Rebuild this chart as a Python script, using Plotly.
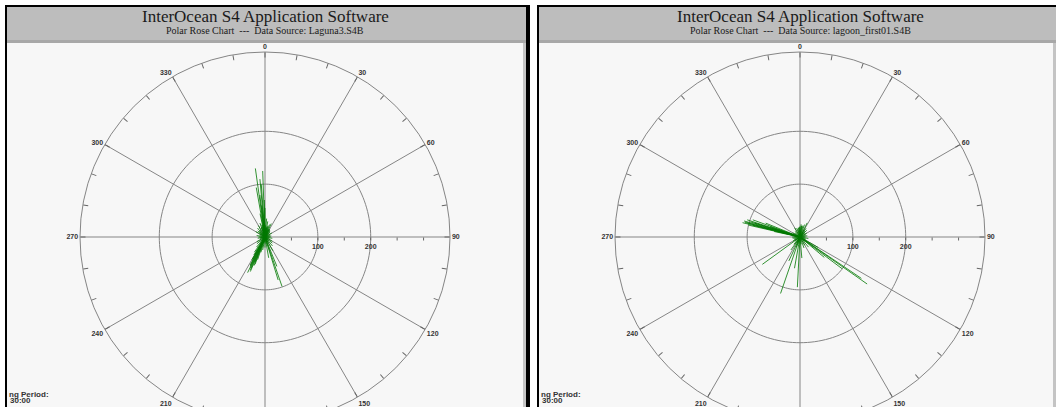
import plotly.graph_objects as go

# ---------------------------------------------------------------- data
# Current vectors for each record: direction (deg, compass) and speed (cm/s)
laguna_dir = [352, 358, 355, 350, 356, 353, 359, 354, 0, 348,
              10, 20, 15, 30, 40, 5, 25,
              161, 163, 158, 150, 140, 170,
              203, 205, 208, 200, 210, 198, 212, 206, 215, 195, 190,
              204, 207, 202, 209, 201,
              60, 80, 100, 120, 240, 260, 280, 300, 320, 330, 340, 220, 230,
              180, 130, 90, 270, 310, 345, 12, 35, 355, 8, 190, 210, 200,
              2, 18, 28, 45, 70, 110, 150, 170, 250, 290, 315, 338, 350, 357,
              6, 22, 50, 135, 185, 225, 265, 305, 325, 342]
laguna_spd = [131, 125, 110, 95, 100, 80, 70, 60, 55, 45,
              30, 25, 22, 18, 15, 35, 28,
              99, 85, 60, 30, 22, 40,
              71, 65, 60, 55, 50, 45, 40, 75, 35, 30, 25,
              68, 62, 52, 48, 58,
              15, 12, 14, 16, 18, 14, 16, 20, 22, 25, 28, 25, 20,
              20, 18, 10, 12, 18, 24, 20, 16, 26, 18, 12, 14, 16,
              22, 18, 16, 13, 10, 9, 12, 14, 10, 11, 15, 19, 23, 21,
              17, 14, 11, 10, 9, 12, 9, 12, 16, 20]

lagoon_dir = [284, 286, 288, 283, 290, 285, 287, 292, 289, 282,
              285, 287, 284,
              125, 124, 127, 130, 120,
              183, 199, 190, 205, 234, 175, 215,
              27, 20, 35, 10, 45, 0, 350,
              60, 80, 100, 150, 160, 240, 260, 300, 320, 340,
              70, 200, 220, 270, 250, 330, 140, 110, 15, 5, 355,
              30, 50, 90, 120, 170, 190, 230, 280, 310, 345, 358, 8, 40, 135, 210]
lagoon_spd = [112, 110, 105, 100, 95, 108, 90, 70, 60, 50,
              104, 98, 92,
              155, 140, 100, 60, 40,
              95, 113, 60, 50, 88, 40, 30,
              30, 25, 20, 22, 18, 20, 18,
              15, 14, 16, 18, 22, 15, 14, 16, 14, 18,
              12, 20, 18, 15, 12, 20, 25, 12, 22, 24, 18,
              16, 12, 10, 11, 14, 13, 12, 14, 12, 15, 19, 21, 14, 12, 13]

spoke_angles = list(range(0, 360, 30))
ring_levels = [100, 200]
r_max = 350
angle_ticks = list(range(0, 360, 10))
radial_ticks = [50, 100, 150, 200, 250, 300]
radial_labels = ["", "<b>100</b>", "", "<b>200</b>", "", ""]

panels = [
    dict(source="Laguna3.S4B", dirs=laguna_dir, spds=laguna_spd),
    dict(source="lagoon_first01.S4B", dirs=lagoon_dir, spds=lagoon_spd),
]

# ---------------------------------------------------------------- geometry (px)
W, H = 1056, 440


def px(x):
    return x / W


def py(y):
    return 1 - y / H


panel_boxes = [  # outer black frame left/right, plot centre x
    dict(x0=5, x1=530, cx=265),
    dict(x0=537, x1=1060, cx=800),
]
cy, R = 237, 185
grid_col = "#858585"

fig = go.Figure()
shapes, annotations = [], []

for i, (p, box) in enumerate(zip(panels, panel_boxes), start=1):
    pid = "polar" if i == 1 else f"polar{i}"
    sub = pid

    # spokes
    th, rr = [], []
    for a in spoke_angles:
        th += [a, a, None]
        rr += [0, r_max, None]
    fig.add_trace(go.Scatterpolar(theta=th, r=rr, mode="lines", subplot=sub,
                                  line=dict(color=grid_col, width=1),
                                  hoverinfo="skip", showlegend=False))
    # range rings
    for lvl in ring_levels:
        th = list(range(0, 361, 2))
        fig.add_trace(go.Scatterpolar(theta=th, r=[lvl] * len(th), mode="lines",
                                      subplot=sub,
                                      line=dict(color=grid_col, width=1),
                                      hoverinfo="skip", showlegend=False))
    # current vectors
    th, rr = [], []
    for d, s in zip(p["dirs"], p["spds"]):
        th += [d, d, None]
        rr += [0, s, None]
    fig.add_trace(go.Scatterpolar(theta=th, r=rr, mode="lines", subplot=sub,
                                  line=dict(color="rgba(0,120,0,0.8)", width=1),
                                  showlegend=False))

    dom_x = [px(box["cx"] - R), px(box["cx"] + R)]
    dom_y = [py(cy + R), py(cy - R)]
    fig.update_layout(**{pid: dict(
        domain=dict(x=dom_x, y=dom_y),
        bgcolor="rgba(0,0,0,0)",
        angularaxis=dict(rotation=90, direction="clockwise",
                         tickmode="array", tickvals=angle_ticks,
                         ticktext=[f"<b>{a}</b>" if a % 30 == 0 else "" for a in angle_ticks],
                         ticks="inside", ticklen=5, tickwidth=1, tickcolor="#666666",
                         showgrid=False, showline=True,
                         linecolor=grid_col, linewidth=1,
                         tickfont=dict(family="Liberation Sans", size=7, color="#333333")),
        radialaxis=dict(range=[0, r_max], angle=0, side="clockwise",
                        tickmode="array", tickvals=radial_ticks, ticktext=radial_labels,
                        ticks="outside", ticklen=3, tickcolor="#666666",
                        showgrid=False, showline=False, tickangle=0,
                        tickfont=dict(family="Liberation Sans", size=7, color="#333333")),
    )})

    # window chrome
    x0, x1 = box["x0"], box["x1"]
    shapes += [
        dict(type="rect", x0=px(x0), x1=px(x1), y0=py(H), y1=py(5),
             fillcolor="#000000", line_width=0, layer="below"),
        dict(type="rect", x0=px(x0 + 2), x1=px(x1 - 4), y0=py(42), y1=py(7),
             fillcolor="#bdbdbd", line_width=0, layer="below"),
        dict(type="rect", x0=px(x0 + 2), x1=px(x1 - 4), y0=py(43), y1=py(40),
             fillcolor="#a8a8a8", line_width=0, layer="below"),
        dict(type="rect", x0=px(x0 + 2), x1=px(x1 - 4), y0=py(H), y1=py(43),
             fillcolor="#f7f7f7", line_width=0, layer="below"),
        dict(type="rect", x0=px(x1 - 7), x1=px(x1 - 4), y0=py(H), y1=py(43),
             fillcolor="#c4c4c4", line_width=0, layer="below"),
    ]
    annotations += [
        dict(text="InterOcean S4 Application Software", x=px(box["cx"]), y=py(17),
             xref="paper", yref="paper", showarrow=False, xanchor="center", yanchor="middle",
             font=dict(family="Liberation Serif", size=17, color="#1a1a1a")),
        dict(text=f"Polar Rose Chart  ---  Data Source: {p['source']}",
             x=px(box["cx"]), y=py(31), xref="paper", yref="paper", showarrow=False,
             xanchor="center", yanchor="middle",
             font=dict(family="Liberation Serif", size=10, color="#1a1a1a")),
        dict(text="<b>ng Period:</b>", x=px(x0 + 2), y=py(394), xref="paper", yref="paper",
             showarrow=False, xanchor="left", yanchor="middle",
             font=dict(family="Liberation Sans", size=8, color="#333")),
        dict(text="<b>30:00</b>", x=px(x0 + 3), y=py(400), xref="paper", yref="paper",
             showarrow=False, xanchor="left", yanchor="middle",
             font=dict(family="Liberation Sans", size=8, color="#333")),
    ]

fig.update_layout(width=W, height=H, margin=dict(l=0, r=0, t=0, b=0),
                  paper_bgcolor="#ffffff", plot_bgcolor="#ffffff",
                  shapes=shapes, annotations=annotations, showlegend=False)

fig.write_html("out.html",
               post_script="document.documentElement.style.overflow='hidden';"
                           "document.body.style.overflow='hidden';")
